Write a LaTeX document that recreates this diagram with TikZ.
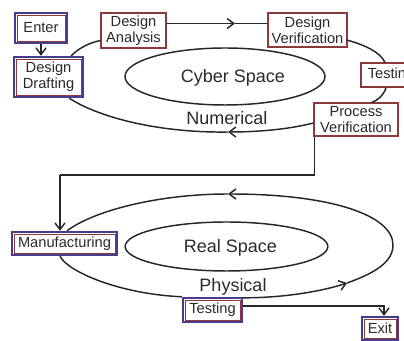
\documentclass[tikz,border=0pt]{standalone}
\usepackage{fontspec}
\setmainfont{Liberation Sans}
\usetikzlibrary{arrows.meta,calc,shapes.geometric}
\definecolor{bluec}{HTML}{4A3C8C}
\definecolor{redc}{HTML}{8A3A3A}
\definecolor{txt}{HTML}{2A2A2A}
\tikzset{
  boxtext/.style={font=\fontsize{11}{12}\selectfont, text=txt, align=center, inner sep=0pt},
  redbox/.style={boxtext, draw=redc, line width=0.9pt, fill=white},
  bluebox/.style={boxtext, draw=bluec, line width=1.8pt, fill=white,
    path picture={\draw[redc,line width=0.5pt]
      ([shift={(1.4pt,1.4pt)}]path picture bounding box.south west) rectangle
      ([shift={(-1.4pt,-1.4pt)}]path picture bounding box.north east);}},
  flow/.style={line width=1.1pt, draw=black!85},
  tip/.style={-{Straight Barb[length=5pt,width=7.5pt]}},
  bigtext/.style={font=\fontsize{13.5}{15}\selectfont, text=txt, inner sep=0pt},
  spaceell/.style={ellipse, draw=black!85, line width=1.1pt, inner sep=0pt},
}
\begin{document}
\begin{tikzpicture}[x=0.75pt,y=-0.75pt]
\useasboundingbox (0,0) rectangle (404,341);
\clip (0,0) rectangle (404,341);

% ellipses
\node[spaceell, minimum width=150pt, minimum height=42.75pt] (cyber) at (225,76.5) {};
\node[bigtext] (cybert) at (233,78) {Cyber Space};
\node[spaceell, minimum width=152pt, minimum height=36.75pt] (real) at (226.5,246.5) {};
\node[bigtext] (realt) at (230.5,248) {Real Space};
\node[bigtext] (num) at (227,118) {Numerical};
\node[bigtext] (phys) at (233,287) {Physical};

% boxes
\node[bluebox, minimum width=39pt, minimum height=22.5pt] (en) at (41,28) {Enter};
\node[bluebox, minimum width=51.75pt, minimum height=30pt] (dd) at (48.5,77) {Design\\Drafting};
\node[redbox, minimum width=48.75pt, minimum height=26.25pt] (da) at (133.5,30.5) {Design\\Analysis};
\node[redbox, minimum width=59.25pt, minimum height=25.5pt] (dv) at (307.5,30) {Design\\Verification};
\node[redbox, minimum width=45pt, minimum height=18pt] (tt) at (391,75) {Testing};
\node[redbox, minimum width=63pt, minimum height=24.75pt] (pv) at (356,119.5) {Process\\Verification};
\node[bluebox, minimum width=78.75pt, minimum height=17.25pt] (mf) at (64.5,243.5) {Manufacturing};
\node[bluebox, minimum width=44.25pt, minimum height=18pt] (tb) at (212.5,310) {Testing};
\node[bluebox, minimum width=27pt, minimum height=17.25pt] (ex) at (380,328.5) {Exit};

% coordinates for arrowheads / bends
\coordinate (a1) at (235,23.5);
\coordinate (a2) at (228,132);
\coordinate (bend) at (60,175);
\coordinate (a3) at (347,283);
\coordinate (a4) at (228,194);
\coordinate (rr) at (393,245);

% Enter -> Design Drafting
\draw[flow,tip] (en.south) -- (en.south |- dd.north);

% cyber loop
\draw[flow] ($(dd.north east)+(-13,0)$) .. controls (78,49) and (88,43) .. ($(da.west)+(0,10)$);
\draw[flow,tip] ($(da.east)+(0,-7)$) -- (a1);
\draw[flow] (a1) -- ($(dv.west)+(0,-6.5)$);
\draw[flow] ($(dv.east)+(-1,10)$) .. controls (365,45) and (380,52) .. ($(tt.north)+(-6,0)$);
\draw[flow] ($(tt.south)+(-5,0)$) .. controls (384,95) and (378,100) .. ($(pv.north)+(16,0)$);
\draw[flow,tip] ($(pv.west)+(0,3.5)$) .. controls (290,129) and (260,132) .. (a2);
\draw[flow] (a2) .. controls (160,133) and (100,118) .. ($(dd.south east)+(-15,0)$);

% Process Verification -> Manufacturing
\draw[flow] ($(pv.south west)+(1,0)$) |- (bend);
\draw[flow,tip] (bend) -- (bend |- mf.north);

% real loop
\draw[flow] ($(mf.south)+(-4.5,0)$) .. controls (68,272) and (120,294) .. (tb.north west);
\draw[flow,tip] ($(tb.north east)+(0,1)$) .. controls (280,298) and (320,292) .. (a3);
\draw[flow] (a3) .. controls (375,273) and (393,262) .. (rr);
\draw[flow,tip] (rr) .. controls (393,215) and (330,194) .. (a4);
\draw[flow] (a4) .. controls (160,194) and (95,210) .. ($(mf.north)+(2.5,0)$);

% Testing -> Exit
\draw[flow,tip] ($(tb.east)+(0,-4)$) -| ($(ex.north)+(4,0)$);
\end{tikzpicture}
\end{document}
